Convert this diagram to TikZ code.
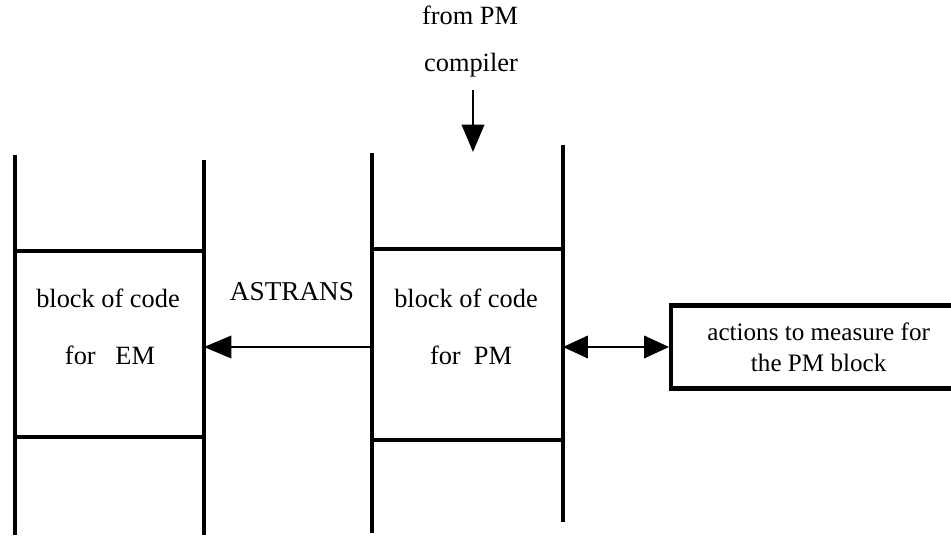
\documentclass[tikz,border=0pt]{standalone}
\usepackage{fontspec}
\setmainfont{Liberation Serif}
\usetikzlibrary{arrows.meta}

\begin{document}
\begin{tikzpicture}[x=0.02cm, y=-0.02cm, font=\fontsize{15}{18}\selectfont,
    rail/.style={line width=2.8pt},
    shelf/.style={line width=2.3pt},
    link/.style={line width=1.4pt, -{Triangle[length=0.55cm,width=0.45cm]}},
    twoway/.style={line width=1.4pt, {Triangle[length=0.5cm,width=0.45cm]}-{Triangle[length=0.5cm,width=0.45cm]}},
    measurebox/.style={draw, line width=2.5pt, minimum width=5.9cm, minimum height=1.66cm, align=center, inner sep=0pt, font=\fontsize{14.3}{17.5}\selectfont}]
\useasboundingbox (0,0) rectangle (951,537);
% stack for EM
\draw[rail] (15,155) -- (15,535);
\draw[rail] (204,160) -- (204,535);
\draw[shelf] (15,251) -- (204,251);
\draw[shelf] (15,437) -- (204,437);
\node (emcode) at (108,298) {block of code};
\node (emfor) at (110,355) {for\enspace\ EM};
\coordinate (emport) at (204,347);
% stack for PM
\draw[rail] (372,153) -- (372,533);
\draw[rail] (563,145) -- (563,522);
\draw[shelf] (372,249) -- (563,249);
\draw[shelf] (372,440) -- (563,440);
\node (pmcode) at (466,298) {block of code};
\node (pmfor) at (471,355) {for\enspace PM};
\coordinate (pmin) at (372,347);
\coordinate (pmout) at (563,347);
% input from the compiler
\node (frompm) at (470,15) {from PM};
\node (compiler) at (471,65) {compiler};
\coordinate (feedtop) at (473,90);
\coordinate (feedbot) at (473,152);
\draw[link] (feedtop) -- (feedbot);
% translation
\node[font=\fontsize{15.5}{18}\selectfont] (astrans) at (292,292) {ASTRANS};
\draw[link] (pmin) -- (emport);
% measuring actions
\node[measurebox, anchor=west] (measure) at (669,347) {actions to measure for\\the PM block};
\draw[twoway] (pmout) -- (measure.west);
\end{tikzpicture}
\end{document}
